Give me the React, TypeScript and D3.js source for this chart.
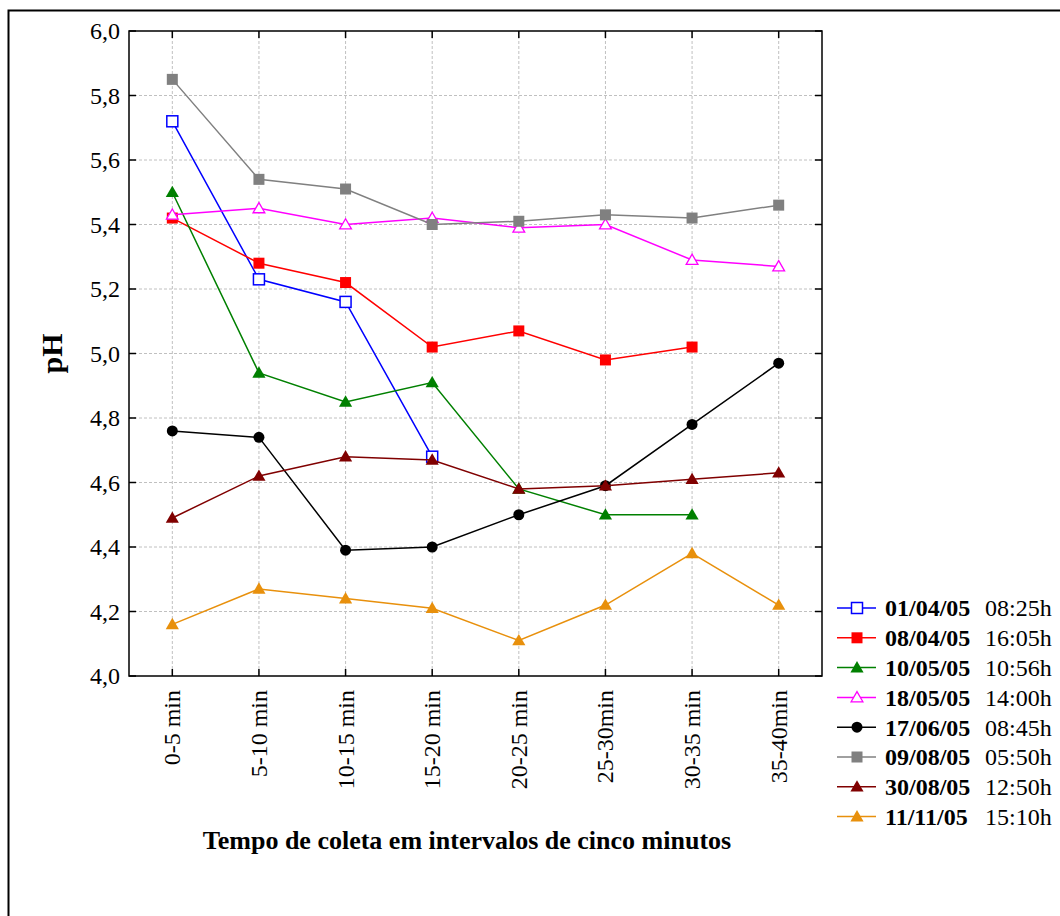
import React from "react";
import * as d3 from "d3";

const categories = ["0-5 min", "5-10 min", "10-15 min", "15-20 min", "20-25 min", "25-30min", "30-35 min", "35-40min"];
const yTicks = [4.0, 4.2, 4.4, 4.6, 4.8, 5.0, 5.2, 5.4, 5.6, 5.8, 6.0];

const s0104 = [5.72, 5.23, 5.16, 4.68];
const s0804 = [5.42, 5.28, 5.22, 5.02, 5.07, 4.98, 5.02];
const s1005 = [5.50, 4.94, 4.85, 4.91, 4.58, 4.50, 4.50];
const s1805 = [5.43, 5.45, 5.40, 5.42, 5.39, 5.40, 5.29, 5.27];
const s1706 = [4.76, 4.74, 4.39, 4.40, 4.50, 4.59, 4.78, 4.97];
const s0908 = [5.85, 5.54, 5.51, 5.40, 5.41, 5.43, 5.42, 5.46];
const s3008 = [4.49, 4.62, 4.68, 4.67, 4.58, 4.59, 4.61, 4.63];
const s1111 = [4.16, 4.27, 4.24, 4.21, 4.11, 4.22, 4.38, 4.22];

const seriesDates = ["01/04/05", "08/04/05", "10/05/05", "18/05/05", "17/06/05", "09/08/05", "30/08/05", "11/11/05"];
const seriesTimes = ["08:25h", "16:05h", "10:56h", "14:00h", "08:45h", "05:50h", "12:50h", "15:10h"];
const seriesValues = [s0104, s0804, s1005, s1805, s1706, s0908, s3008, s1111];
const seriesColors = ["#0000ff", "#ff0000", "#008000", "#ff00ff", "#000000", "#808080", "#800000", "#e8900c"];
const seriesMarkers = ["squareOpen", "square", "triangle", "triangleOpen", "circle", "square", "triangle", "triangle"];

const M = { left: 129, right: 822, top: 31, bottom: 676 };
const FONT = "'Liberation Serif', 'Times New Roman', serif";

function Marker({ type, x, y, color }: { type: string; x: number; y: number; color: string }) {
  if (type === "square" || type === "squareOpen") {
    const s = 11;
    return <rect x={x - s / 2} y={y - s / 2} width={s} height={s}
      fill={type === "square" ? color : "#fff"} stroke={color} strokeWidth={type === "square" ? 0 : 1.5} />;
  }
  if (type === "circle") {
    return <circle cx={x} cy={y} r={5.5} fill={color} />;
  }
  const sym = d3.symbol().type(d3.symbolTriangle).size(type === "triangleOpen" ? 60 : 75)();
  return <path d={sym as string} transform={`translate(${x},${y + 1})`}
    fill={type === "triangle" ? color : "#fff"} stroke={color} strokeWidth={type === "triangle" ? 0 : 1.3} />;
}

export default function App() {
  const x = d3.scalePoint<string>().domain(categories).range([M.left, M.right]).padding(0.5);
  const y = d3.scaleLinear().domain([4, 6]).range([M.bottom, M.top]);
  const line = d3.line<number>().x((_, i) => x(categories[i])!).y(d => y(d));
  const tick = 7;

  return (
    <svg width={1060} height={916} style={{ position: "absolute", left: 0, top: 0 }} fontFamily={FONT}>
      <rect x={0} y={0} width={1060} height={916} fill="#fff" />
      <rect x={8.5} y={10.5} width={1080} height={940} fill="none" stroke="#000" strokeWidth={2} />
      {/* grid */}
      {yTicks.slice(1, -1).map(t => (
        <line key={"gy" + t} x1={M.left} x2={M.right} y1={y(t)} y2={y(t)} stroke="#c0c0c0" strokeDasharray="3,2" strokeWidth={1} />
      ))}
      {categories.map(c => (
        <line key={"gx" + c} x1={x(c)} x2={x(c)} y1={M.top} y2={M.bottom} stroke="#c0c0c0" strokeDasharray="3,2" strokeWidth={1} />
      ))}
      {/* frame */}
      <rect x={M.left} y={M.top} width={M.right - M.left} height={M.bottom - M.top} fill="none" stroke="#000" strokeWidth={1.5} />
      {/* ticks */}
      {yTicks.map(t => (
        <g key={"ty" + t}>
          <line x1={M.left} x2={M.left + tick} y1={y(t)} y2={y(t)} stroke="#000" strokeWidth={1.5} />
          <line x1={M.right} x2={M.right - tick} y1={y(t)} y2={y(t)} stroke="#000" strokeWidth={1.5} />
          <text x={M.left - 9} y={y(t)} dy="0.35em" textAnchor="end" fontSize={24}>{d3.format(".1f")(t).replace(".", ",")}</text>
        </g>
      ))}
      {categories.map(c => (
        <g key={"tx" + c}>
          <line x1={x(c)} x2={x(c)} y1={M.bottom} y2={M.bottom - tick} stroke="#000" strokeWidth={1.5} />
          <line x1={x(c)} x2={x(c)} y1={M.top} y2={M.top + tick} stroke="#000" strokeWidth={1.5} />
          <text transform={`translate(${x(c)! + 8},${M.bottom + 14}) rotate(-90)`} textAnchor="end" fontSize={24}>{c}</text>
        </g>
      ))}
      {/* series */}
      {seriesValues.map((vals, si) => (
        <g key={"s" + si}>
          <path d={line(vals) as string} fill="none" stroke={seriesColors[si]} strokeWidth={1.5} />
          {vals.map((v, i) => (
            <Marker key={i} type={seriesMarkers[si]} x={x(categories[i])!} y={y(v)} color={seriesColors[si]} />
          ))}
        </g>
      ))}
      {/* axis titles */}
      <text transform={`translate(62,${(M.top + M.bottom) / 2}) rotate(-90)`} textAnchor="middle" fontSize={30} fontWeight="bold">pH</text>
      <text x={467} y={849} textAnchor="middle" fontSize={26} fontWeight="bold">Tempo de coleta em intervalos de cinco minutos</text>
      {/* legend */}
      {seriesDates.map((d, i) => {
        const ly = 608 + i * 29.8;
        return (
          <g key={"l" + i}>
            <line x1={837} x2={876} y1={ly} y2={ly} stroke={seriesColors[i]} strokeWidth={1.5} />
            <Marker type={seriesMarkers[i]} x={857} y={ly} color={seriesColors[i]} />
            <text x={885} y={ly} dy="0.35em" fontSize={24} fontWeight="bold">{d}</text>
            <text x={985} y={ly} dy="0.35em" fontSize={24}>{seriesTimes[i]}</text>
          </g>
        );
      })}
    </svg>
  );
}
